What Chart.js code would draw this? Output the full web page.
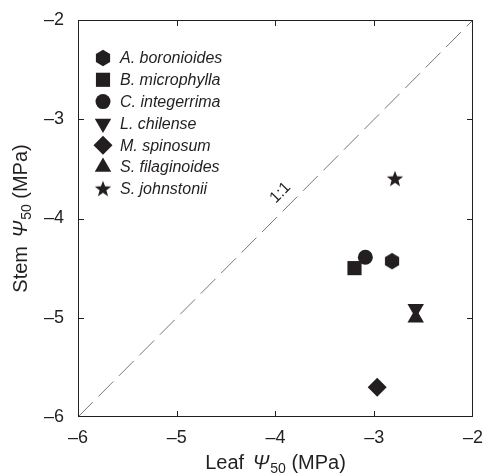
<!DOCTYPE html>
<html>
<head>
<meta charset="UTF-8">
<title>Leaf vs stem P50</title>
<script src="https://cdn.jsdelivr.net/npm/chart.js"></script>
<style>
  html, body { margin: 0; padding: 0; background: #fff; }
  #wrap { width: 485px; height: 475px; }
</style>
</head>
<body>
<div id="wrap"><canvas id="p50Chart"></canvas></div>
<script>
// data
const species = ['A. boronioides', 'B. microphylla', 'C. integerrima', 'L. chilense', 'M. spinosum', 'S. filaginoides', 'S. johnstonii'];
const leafP50 = [-2.82, -3.20, -3.09, -2.58, -2.97, -2.58, -2.79];
const stemP50 = [-4.43, -4.50, -4.39, -4.91, -5.70, -5.00, -3.60];
const axisMin = -6;
const axisMax = -2;
const oneToOne = [-6, -2];

const ink = '#231f20';
const font = 'Arial, "Liberation Sans", sans-serif';

// small canvases for the shapes Chart.js doesn't have
function makeMarker(size, draw) {
    const c = document.createElement('canvas');
    c.width = size; c.height = size;
    const g = c.getContext('2d');
    g.fillStyle = ink;
    g.beginPath();
    draw(g, size / 2);
    g.closePath();
    g.fill();
    return c;
}
const hexagon = makeMarker(18, (g, m) => {
    const R = 8.2;
    for (let i = 0; i < 6; i++) {
        const a = Math.PI / 3 * i;
        g.lineTo(m + R * Math.sin(a), m - R * Math.cos(a));
    }
});
const star = makeMarker(18, (g, m) => {
    for (let i = 0; i < 10; i++) {
        const r = i % 2 ? 3.6 : 8.6;
        const a = Math.PI / 5 * i;
        g.lineTo(m + r * Math.sin(a), m + 0.5 - r * Math.cos(a));
    }
});

const styles = [hexagon, 'rect', 'circle', 'triangle', 'rectRot', 'triangle', star];
const rotations = [0, 0, 0, 180, 0, 0, 0];
const radii = [8, 10, 7.5, 9.5, 9.5, 9.5, 8];

const speciesSets = species.map((name, i) => ({
    label: name,
    data: [{ x: leafP50[i], y: stemP50[i] }],
    pointStyle: styles[i],
    pointRotation: rotations[i],
    pointRadius: radii[i],
    pointBackgroundColor: ink,
    pointBorderWidth: 0,
    showLine: false
}));

const lineSet = {
    label: '1:1',
    data: oneToOne.map(v => ({ x: v, y: v })),
    showLine: true,
    borderColor: '#777777',
    borderWidth: 1,
    borderDash: [21, 8],
    pointRadius: 0
};

const minus = v => String(v).replace('-', '\u2013');

function drawPsiTitle(ctx, pre, post, x, y) {
    const big = '20px ' + font, sub = '14px ' + font, it = 'italic 20px ' + font;
    ctx.font = big; const w1 = ctx.measureText(pre).width + 3;
    ctx.font = it; const w2 = ctx.measureText('\u03A8').width + 1;
    ctx.font = sub; const w3 = ctx.measureText('50').width;
    ctx.font = big; const w4 = ctx.measureText(post).width;
    let cx = x - (w1 + w2 + w3 + w4) / 2;
    ctx.textBaseline = 'alphabetic';
    ctx.textAlign = 'left';
    ctx.font = big; ctx.fillText(pre, cx, y); cx += w1;
    ctx.font = it; ctx.fillText('\u03A8', cx, y); cx += w2;
    ctx.font = sub; ctx.fillText('50', cx, y + 4); cx += w3;
    ctx.font = big; ctx.fillText(post, cx, y);
}

const decorations = {
    id: 'decorations',
    afterDraw(chart) {
        const { ctx, chartArea: a, scales: { x, y } } = chart;
        ctx.save();
        ctx.strokeStyle = ink;
        ctx.fillStyle = ink;
        ctx.lineWidth = 1;
        ctx.strokeRect(a.left + 0.5, a.top + 0.5, a.right - a.left - 1, a.bottom - a.top - 1);

        // inward ticks on all four sides
        ctx.beginPath();
        for (let v = axisMin + 1; v < axisMax; v++) {
            const px = Math.round(x.getPixelForValue(v)) + 0.5;
            ctx.moveTo(px, a.bottom); ctx.lineTo(px, a.bottom - 6);
            ctx.moveTo(px, a.top); ctx.lineTo(px, a.top + 6);
            const py = Math.round(y.getPixelForValue(v)) + 0.5;
            ctx.moveTo(a.left, py); ctx.lineTo(a.left + 6, py);
            ctx.moveTo(a.right, py); ctx.lineTo(a.right - 6, py);
        }
        ctx.stroke();

        // 1:1 label
        const lx = x.getPixelForValue(-3.95), ly = y.getPixelForValue(-3.74);
        const ang = Math.atan2(y.getPixelForValue(-2) - y.getPixelForValue(-6), x.getPixelForValue(-2) - x.getPixelForValue(-6));
        ctx.save();
        ctx.translate(lx, ly);
        ctx.rotate(ang);
        ctx.font = '16px ' + font;
        ctx.textAlign = 'center';
        ctx.textBaseline = 'middle';
        ctx.fillText('1:1', 0, 0);
        ctx.restore();

        // legend inside the plot
        ctx.font = 'italic 16px ' + font;
        ctx.textAlign = 'left';
        ctx.textBaseline = 'middle';
        species.forEach((name, i) => {
            const mx = a.left + 25, my = a.top + 38 + i * 21.8;
            const st = styles[i];
            if (st instanceof HTMLCanvasElement) {
                ctx.drawImage(st, mx - st.width / 2, my - st.height / 2);
            } else {
                Chart.helpers.drawPoint(ctx, { pointStyle: st, rotation: rotations[i], radius: radii[i], borderWidth: 0 }, mx, my);
            }
            ctx.fillText(name, a.left + 42, my + 1);
        });

        // axis titles
        drawPsiTitle(ctx, 'Leaf ', ' (MPa)', (a.left + a.right) / 2, 469);
        ctx.save();
        ctx.translate(27, (a.top + a.bottom) / 2);
        ctx.rotate(-Math.PI / 2);
        drawPsiTitle(ctx, 'Stem ', ' (MPa)', 0, 0);
        ctx.restore();
        ctx.restore();
    }
};

new Chart(document.getElementById('p50Chart'), {
    type: 'scatter',
    data: { datasets: [lineSet, ...speciesSets] },
    options: {
        responsive: true,
        maintainAspectRatio: false,
        animation: false,
        layout: { padding: { top: 20, right: 12, left: 0, bottom: 0 } },
        plugins: { legend: { display: false }, tooltip: { enabled: false } },
        scales: {
            x: {
                type: 'linear', min: axisMin, max: axisMax,
                grid: { display: false },
                border: { display: false },
                ticks: { stepSize: 1, padding: 2, color: ink, font: { size: 18, family: font }, callback: minus },
                afterFit: s => { s.height = 58; }
            },
            y: {
                type: 'linear', min: axisMin, max: axisMax,
                grid: { display: false },
                border: { display: false },
                ticks: { stepSize: 1, padding: 6, color: ink, font: { size: 18, family: font }, callback: minus },
                afterFit: s => { s.width = 78; }
            }
        }
    },
    plugins: [decorations]
});
</script>
</body>
</html>
